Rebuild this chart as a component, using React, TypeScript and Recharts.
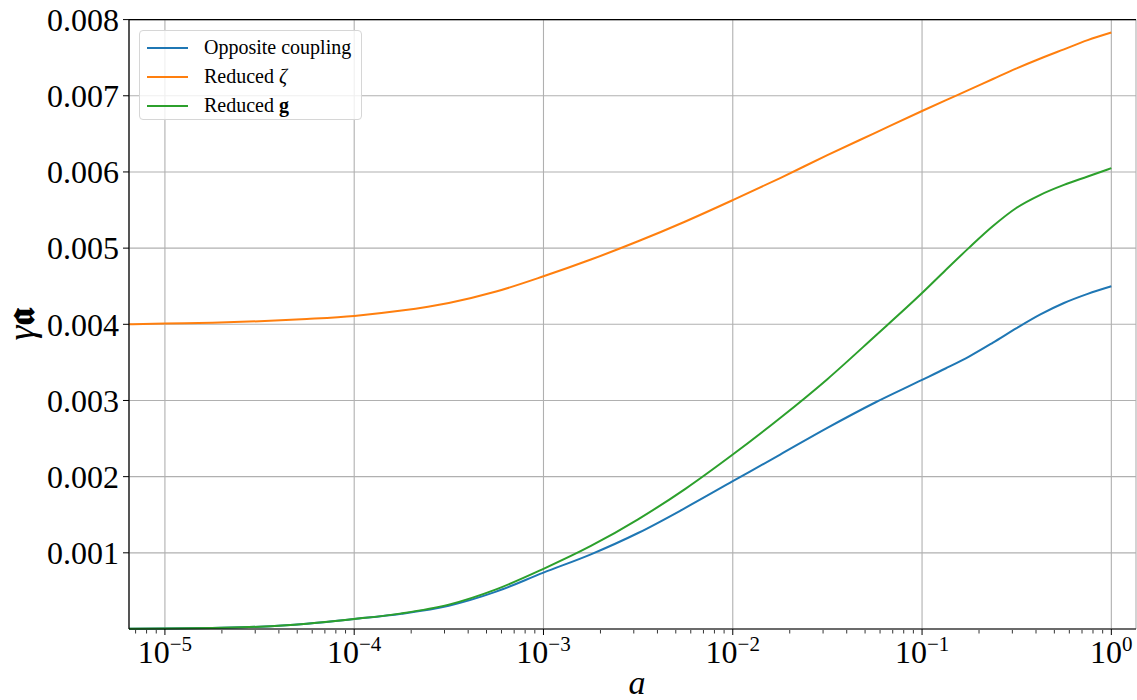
import React from "react"
import { LineChart, Line, XAxis, YAxis, CartesianGrid, Legend, ReferenceLine, Label } from "recharts"

// scale factor a (quarter-decade samples on the log axis, eighths near the end)
const A_VALUES = [
  6.46e-6, 1e-5, 1.78e-5, 3.16e-5, 5.62e-5, 1e-4, 1.78e-4, 3.16e-4, 5.62e-4, 1e-3, 1.78e-3, 3.16e-3, 5.62e-3,
  1e-2, 1.78e-2, 3.16e-2, 5.62e-2, 0.1, 0.133, 0.178, 0.237, 0.316, 0.422, 0.562, 0.75, 1,
]

const OPPOSITE_COUPLING = [
  0.000002, 0.000005, 0.000014, 0.00003, 0.00007, 0.000131, 0.0002, 0.000305, 0.00049, 0.00074, 0.00098, 0.00126,
  0.00159, 0.00194, 0.00229, 0.00264, 0.00297, 0.00327, 0.00342, 0.00358, 0.00376, 0.00395, 0.00413, 0.00428, 0.0044,
  0.0045,
]
const REDUCED_ZETA = [
  0.004, 0.00401, 0.00402, 0.00404, 0.00407, 0.00411, 0.00418, 0.00428, 0.00443, 0.00463, 0.00485, 0.00509, 0.00535,
  0.00563, 0.00592, 0.00622, 0.00651, 0.0068, 0.00694, 0.00708, 0.00722, 0.00736, 0.00749, 0.00761, 0.00773, 0.00783,
]
const REDUCED_G = [
  0.000002, 0.000005, 0.000014, 0.00003, 0.00007, 0.000131, 0.000205, 0.00032, 0.00052, 0.00079, 0.00109, 0.00144,
  0.00184, 0.00229, 0.00277, 0.00328, 0.00384, 0.00441, 0.00471, 0.00501, 0.00529, 0.00553, 0.0057, 0.00583, 0.00594,
  0.00605,
]

const X_DOMAIN = [6.46e-6, 1.35]
const X_TICKS = [1e-5, 1e-4, 1e-3, 1e-2, 1e-1, 1]
const X_TICK_EXP = ["−5", "−4", "−3", "−2", "−1", "0"]
const Y_TICKS = [0.001, 0.002, 0.003, 0.004, 0.005, 0.006, 0.007, 0.008]

// log-axis minor ticks (2..9 per decade) inside the visible range
const MINOR_TICKS: number[] = []
for (let e = -6; e <= 0; e++) {
  for (let m = 2; m <= 9; m++) {
    const v = m * Math.pow(10, e)
    if (v >= X_DOMAIN[0] && v <= X_DOMAIN[1]) MINOR_TICKS.push(v)
  }
}

const data = A_VALUES.map((a, i) => ({
  a,
  opp: OPPOSITE_COUPLING[i],
  zeta: REDUCED_ZETA[i],
  g: REDUCED_G[i],
}))

const SERIES = [
  { key: "opp", color: "#1f77b4" },
  { key: "zeta", color: "#ff7f0e" },
  { key: "g", color: "#2ca02c" },
]

const FONT = "'Liberation Serif', 'DejaVu Serif', serif"

function XTick(props: any) {
  const { x, y, index } = props
  return (
    <text x={x} y={y + 28} textAnchor="middle" fontFamily={FONT} fill="#000">
      <tspan fontSize={32}>10</tspan>
      <tspan fontSize={21} dy={-12}>{X_TICK_EXP[index]}</tspan>
    </text>
  )
}

function LegendBox() {
  const rows = [
    { color: "#1f77b4", label: <>Opposite coupling</> },
    { color: "#ff7f0e", label: <>Reduced <i>ζ</i></> },
    { color: "#2ca02c", label: <>Reduced <b>g</b></> },
  ]
  return (
    <div
      style={{
        width: 223,
        height: 90,
        boxSizing: "border-box",
        border: "1px solid #d6d6d6",
        borderRadius: 4,
        background: "rgba(255,255,255,0.8)",
        fontFamily: FONT,
        fontSize: 20,
        color: "#000",
        paddingTop: 2,
      }}
    >
      {rows.map((r, i) => (
        <div key={i} style={{ display: "flex", alignItems: "center", height: 29 }}>
          <div style={{ width: 41, height: 2, background: r.color, marginLeft: 7, marginRight: 16 }} />
          <span>{r.label}</span>
        </div>
      ))}
    </div>
  )
}

export default function App() {
  return (
    <div style={{ position: "absolute", left: 0, top: 0, width: 1137, height: 700, background: "#fff" }}>
      <LineChart width={1137} height={700} data={data} margin={{ top: 19.6, right: 1, left: 0, bottom: 69 }}>
        <CartesianGrid stroke="#b0b0b0" strokeWidth={1.1} />
        <XAxis
          dataKey="a"
          type="number"
          scale="log"
          domain={X_DOMAIN}
          allowDataOverflow
          ticks={X_TICKS}
          tick={<XTick />}
          tickSize={6}
          tickMargin={0}
          axisLine={{ stroke: "#000", strokeWidth: 1.2 }}
          tickLine={{ stroke: "#000", strokeWidth: 1 }}
          interval={0}
          height={1}
        >
          <Label
            content={() => (
              <text x={637} y={694} textAnchor="middle" fontFamily={FONT} fontStyle="italic" fontSize={34} fill="#000">
                a
              </text>
            )}
          />
        </XAxis>
        <XAxis
          xAxisId="minor"
          dataKey="a"
          type="number"
          scale="log"
          domain={X_DOMAIN}
          allowDataOverflow
          ticks={MINOR_TICKS}
          tick={() => <g />}
          tickSize={3.5}
          axisLine={false}
          tickLine={{ stroke: "#000", strokeWidth: 0.8 }}
          interval={0}
          height={1}
        />
        <YAxis
          type="number"
          domain={[0, 0.008]}
          ticks={Y_TICKS}
          interval={0}
          width={129}
          tickSize={6}
          tickMargin={4}
          tickFormatter={(v: number) => v.toFixed(3)}
          tick={{ fontFamily: FONT, fontSize: 32, fill: "#000" }}
          axisLine={{ stroke: "#000", strokeWidth: 1.2 }}
          tickLine={{ stroke: "#000", strokeWidth: 1 }}
        >
          <Label
            content={() => (
              <text
                x={34}
                y={324}
                transform="rotate(-90 34 324)"
                textAnchor="middle"
                fontFamily={FONT}
                fontSize={38}
                fill="#000"
              >
                <tspan fontStyle="italic">γ</tspan>
                <tspan fontWeight="bold">𝖆</tspan>
              </text>
            )}
          />
        </YAxis>
        <ReferenceLine y={0.008} stroke="#000" strokeWidth={1.2} />
        {SERIES.map((s) => (
          <Line
            key={s.key}
            dataKey={s.key}
            type="monotone"
            stroke={s.color}
            strokeWidth={2}
            dot={false}
            isAnimationActive={false}
            legendType="none"
          />
        ))}
        <Legend
          layout="vertical"
          align="center"
          verticalAlign="middle"
          wrapperStyle={{ position: "absolute", left: 139, top: 30, width: 223, height: 90 }}
          content={() => <LegendBox />}
        />
      </LineChart>
    </div>
  )
}
